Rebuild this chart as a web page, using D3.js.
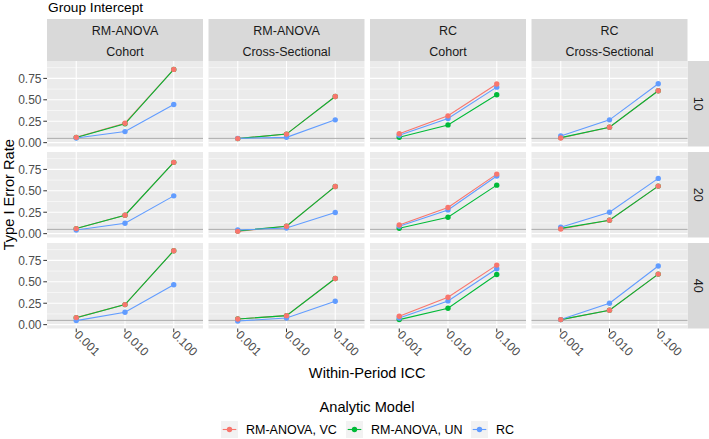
<!DOCTYPE html>
<html>
<head>
<meta charset="utf-8">
<script src="https://cdn.jsdelivr.net/npm/d3@7"></script>
<style>
  html, body { margin: 0; padding: 0; background: #fff; }
  svg { display: block; font-family: "Liberation Sans", Arial, sans-serif; }
</style>
</head>
<body>
<svg id="chart" width="709" height="439"></svg>
<script>
// ---- data ----
const iccLevels = ["0.001", "0.010", "0.100"];
const colFacets = [["RM-ANOVA", "Cohort"], ["RM-ANOVA", "Cross-Sectional"], ["RC", "Cohort"], ["RC", "Cross-Sectional"]];
const rowFacets = ["10", "20", "40"];
const seriesNames = ["RM-ANOVA, VC", "RM-ANOVA, UN", "RC"];
const seriesColors = ["#F8766D", "#00BA38", "#619CFF"];
const yTicks = [0, 0.25, 0.5, 0.75];
const yTickLabels = ["0.00", "0.25", "0.50", "0.75"];
const refLine = 0.05;

// values[row][col] = [icc 0.001, 0.010, 0.100]
const vcValues = [
  [[0.062, 0.227, 0.855], [0.047, 0.100, 0.539], [0.105, 0.313, 0.684], [0.055, 0.180, 0.605]],
  [[0.059, 0.215, 0.832], [0.027, 0.086, 0.551], [0.102, 0.305, 0.695], [0.055, 0.156, 0.555]],
  [[0.082, 0.234, 0.863], [0.066, 0.105, 0.539], [0.098, 0.320, 0.695], [0.059, 0.168, 0.590]]
];
const unValues = [
  [[0.060, 0.220, 0.855], [0.047, 0.100, 0.539], [0.062, 0.207, 0.559], [0.059, 0.180, 0.605]],
  [[0.059, 0.215, 0.832], [0.031, 0.086, 0.551], [0.062, 0.191, 0.566], [0.062, 0.156, 0.555]],
  [[0.080, 0.234, 0.863], [0.066, 0.105, 0.539], [0.059, 0.191, 0.586], [0.059, 0.168, 0.590]]
];
const rcValues = [
  [[0.055, 0.129, 0.445], [0.050, 0.062, 0.266], [0.086, 0.281, 0.648], [0.078, 0.266, 0.688]],
  [[0.043, 0.121, 0.441], [0.043, 0.066, 0.246], [0.086, 0.277, 0.672], [0.074, 0.250, 0.645]],
  [[0.047, 0.145, 0.465], [0.043, 0.078, 0.273], [0.078, 0.277, 0.652], [0.059, 0.250, 0.684]]
];
const allSeries = [vcValues, unValues, rcValues];
// drawing order (last on top)
const lineOrder = [0, 1, 2];
const pointOrder = [1, 2, 0];

// ---- layout ----
const svg = d3.select("#chart");
const panelLeft = 47, panelW = 156, colStep = 161.5;
const panelTop = 61, panelH = 85.5, rowStep = 91;
const stripTopY = 19, stripRightW = 21.5;

// discrete expansion 0.6 on each side: positions 1..3 in [0.4,3.6]
const xLin = d3.scaleLinear().domain([0.4, 3.6]).range([0, panelW]);
const xPos = d => xLin(iccLevels.indexOf(d) + 1);
const y = d3.scaleLinear().domain([-0.045, 0.953]).range([panelH, 0]);
const minorTicks = [0.125, 0.375, 0.625, 0.875];

// title
svg.append("text").attr("x", 48).attr("y", 11.5).attr("font-size", 13.7).attr("fill", "#000").text("Group Intercept");

// top strips
colFacets.forEach((cf, c) => {
  const x0 = panelLeft + c * colStep;
  svg.append("rect").attr("x", x0).attr("y", stripTopY).attr("width", panelW).attr("height", panelTop - stripTopY).attr("fill", "#D9D9D9");
  svg.append("text").attr("x", x0 + panelW / 2).attr("y", 34.5).attr("text-anchor", "middle").attr("font-size", 12.5).attr("fill", "#1A1A1A").text(cf[0]);
  svg.append("text").attr("x", x0 + panelW / 2).attr("y", 55.5).attr("text-anchor", "middle").attr("font-size", 12.5).attr("fill", "#1A1A1A").text(cf[1]);
});

// right strips
rowFacets.forEach((rf, r) => {
  const y0 = panelTop + r * rowStep;
  const sx = panelLeft + 3 * colStep + panelW;
  svg.append("rect").attr("x", sx).attr("y", y0).attr("width", stripRightW).attr("height", panelH).attr("fill", "#D9D9D9");
  svg.append("text").attr("transform", `translate(${sx + stripRightW / 2},${y0 + panelH / 2}) rotate(90)`)
    .attr("text-anchor", "middle").attr("dy", "0.35em").attr("font-size", 12.5).attr("fill", "#1A1A1A").text(rf);
});

const line = d3.line().x((d, i) => xPos(iccLevels[i])).y(d => y(d));

rowFacets.forEach((rf, r) => {
  colFacets.forEach((cf, c) => {
    const x0 = panelLeft + c * colStep, y0 = panelTop + r * rowStep;
    const g = svg.append("g").attr("transform", `translate(${x0},${y0})`);
    g.append("rect").attr("width", panelW).attr("height", panelH).attr("fill", "#EBEBEB");
    minorTicks.forEach(t => {
      if (y(t) >= 0) g.append("line").attr("x1", 0).attr("x2", panelW).attr("y1", y(t)).attr("y2", y(t)).attr("stroke", "#fff").attr("stroke-width", 0.55);
    });
    yTicks.forEach(t => {
      g.append("line").attr("x1", 0).attr("x2", panelW).attr("y1", y(t)).attr("y2", y(t)).attr("stroke", "#fff").attr("stroke-width", 1.1);
    });
    iccLevels.forEach(l => {
      g.append("line").attr("x1", xPos(l)).attr("x2", xPos(l)).attr("y1", 0).attr("y2", panelH).attr("stroke", "#fff").attr("stroke-width", 1.1);
    });
    g.append("line").attr("x1", 0).attr("x2", panelW).attr("y1", y(refLine)).attr("y2", y(refLine)).attr("stroke", "#ABABAB").attr("stroke-width", 1);

    lineOrder.forEach(s => {
      g.append("path").datum(allSeries[s][r][c]).attr("d", line).attr("fill", "none")
        .attr("stroke", seriesColors[s]).attr("stroke-width", 1.1);
    });
    pointOrder.forEach(s => {
      g.selectAll(null).data(allSeries[s][r][c]).enter().append("circle")
        .attr("cx", (d, i) => xPos(iccLevels[i])).attr("cy", d => y(d)).attr("r", 2.7).attr("fill", seriesColors[s]);
    });

    // y axis on first column
    if (c === 0) {
      yTicks.forEach((t, i) => {
        g.append("line").attr("x1", -3.7).attr("x2", 0).attr("y1", y(t)).attr("y2", y(t)).attr("stroke", "#333").attr("stroke-width", 1);
        g.append("text").attr("x", -5.5).attr("y", y(t)).attr("dy", "0.36em").attr("text-anchor", "end")
          .attr("font-size", 12).attr("fill", "#4D4D4D").text(yTickLabels[i]);
      });
    }
    // x axis on last row
    if (r === rowFacets.length - 1) {
      iccLevels.forEach(l => {
        g.append("line").attr("x1", xPos(l)).attr("x2", xPos(l)).attr("y1", panelH).attr("y2", panelH + 3.7).attr("stroke", "#333").attr("stroke-width", 1);
        g.append("text").attr("transform", `translate(${xPos(l) + 0.5},${panelH + 4}) rotate(45)`)
          .attr("dy", "0.35em").attr("text-anchor", "start").attr("font-size", 12).attr("fill", "#4D4D4D").text(l);
      });
    }
  });
});

// axis titles
svg.append("text").attr("x", panelLeft + (3 * colStep + panelW) / 2).attr("y", 378).attr("text-anchor", "middle")
  .attr("font-size", 14.6).attr("fill", "#000").text("Within-Period ICC");
svg.append("text").attr("transform", `translate(13.5,${panelTop + (2 * rowStep + panelH) / 2}) rotate(-90)`).attr("text-anchor", "middle")
  .attr("font-size", 14.6).attr("fill", "#000").text("Type I Error Rate");

// legend
svg.append("text").attr("x", 367).attr("y", 411.5).attr("text-anchor", "middle").attr("font-size", 14.6).attr("fill", "#000").text("Analytic Model");
const legendKeyX = [221, 346, 471];
seriesNames.forEach((n, i) => {
  const kx = legendKeyX[i], ky = 421;
  svg.append("rect").attr("x", kx).attr("y", ky).attr("width", 17).attr("height", 17).attr("fill", "#F2F2F2");
  svg.append("line").attr("x1", kx + 1.7).attr("x2", kx + 15.3).attr("y1", ky + 8.5).attr("y2", ky + 8.5).attr("stroke", seriesColors[i]).attr("stroke-width", 1.1);
  svg.append("circle").attr("cx", kx + 8.5).attr("cy", ky + 8.5).attr("r", 2.7).attr("fill", seriesColors[i]);
  svg.append("text").attr("x", kx + 25).attr("y", ky + 13).attr("font-size", 12.5).attr("fill", "#000").text(n);
});
</script>
</body>
</html>
